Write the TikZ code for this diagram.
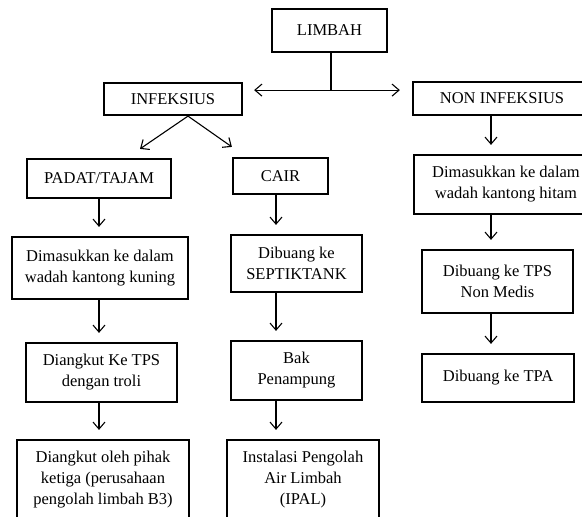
\documentclass[tikz,border=0pt]{standalone}
\usepackage{fontspec}
\setmainfont{Liberation Serif}
\usetikzlibrary{calc,arrows.meta}

\tikzset{
  box/.style={draw,line width=2.2pt,align=center,inner sep=2pt,
    font=\fontsize{16.5}{21}\selectfont},
  arr/.style={line width=1.1pt,-{Straight Barb[length=7pt,width=12pt]},shorten >=9pt}
}

\begin{document}
\begin{tikzpicture}[x=1pt,y=-1pt]
    \useasboundingbox (0,0) rectangle (582,517);
    \node[box,minimum width=115pt,minimum height=43pt] at (329.5,30.5) (limbah) {LIMBAH};
    \node[box,minimum width=138pt,minimum height=32pt] at (173,99) (infek) {INFEKSIUS};
    \node[box,minimum width=178pt,minimum height=33pt] at (502,98.5) (noninf) {NON INFEKSIUS};
    \node[box,minimum width=144pt,minimum height=39pt] at (99,178.5) (padat) {PADAT/TAJAM};
    \node[box,minimum width=95pt,minimum height=36pt] at (280.5,176) (cair) {CAIR};
    \node[box,minimum width=176pt,minimum height=62pt] at (100,268) (kuning) {Dimasukkan ke dalam\\wadah kantong kuning};
    \node[box,minimum width=131pt,minimum height=57pt] at (296.5,263.5) (septik) {Dibuang ke\\SEPTIKTANK};
    \node[box,minimum width=184pt,minimum height=59pt] at (506,184.5) (hitam) {Dimasukkan ke dalam\\wadah kantong hitam};
    \node[box,minimum width=151pt,minimum height=59pt] at (101.5,372.5) (troli) {Diangkut Ke TPS\\dengan troli};
    \node[box,minimum width=131pt,minimum height=59pt] at (296.5,370.5) (bak) {Bak\\Penampung};
    \node[box,minimum width=151pt,minimum height=63pt] at (497.5,281.5) (tps) {Dibuang ke TPS\\Non Medis};
    \node[box,minimum width=152pt,minimum height=48pt] at (498,378) (tpa) {Dibuang ke TPA};
    \node[box,minimum width=172pt,minimum height=80pt] at (103,480) (pihak) {Diangkut oleh pihak\\ketiga (perusahaan\\pengolah limbah B3)};
    \node[box,minimum width=152pt,minimum height=80pt] at (303,480) (ipal) {Instalasi Pengolah\\Air Limbah\\(IPAL)};
    % columns of the down arrows
    \coordinate (colL) at (99,0);
    \coordinate (colM) at (276,0);
    \coordinate (colR) at (491,0);
    \coordinate (split) at ($(limbah.south)+(1.5,37)$);
    \draw[line width=1.1pt] ([xshift=1.5pt]limbah.south) -- (split);
    \draw[arr,shorten >=11pt] (split) -- (split -| infek.east);
    \draw[arr,shorten >=12pt] (split) -- (split -| noninf.west);
    \draw[arr,shorten >=0pt] ([xshift=15pt]infek.south) -- ([xshift=41pt,yshift=9pt]padat.north);
    \draw[arr,shorten >=0pt] ([xshift=15pt]infek.south) -- ([yshift=10pt]cair.north west);
    \draw[arr] (padat.south -| colL) -- (kuning.north -| colL);
    \draw[arr] (kuning.south -| colL) -- (troli.north -| colL);
    \draw[arr] (troli.south -| colL) -- (pihak.north -| colL);
    \draw[arr] (cair.south -| colM) -- (septik.north -| colM);
    \draw[arr] (septik.south -| colM) -- (bak.north -| colM);
    \draw[arr] (bak.south -| colM) -- (ipal.north -| colM);
    \draw[arr] (noninf.south -| colR) -- (hitam.north -| colR);
    \draw[arr] (hitam.south -| colR) -- (tps.north -| colR);
    \draw[arr] (tps.south -| colR) -- (tpa.north -| colR);
\end{tikzpicture}
\end{document}
